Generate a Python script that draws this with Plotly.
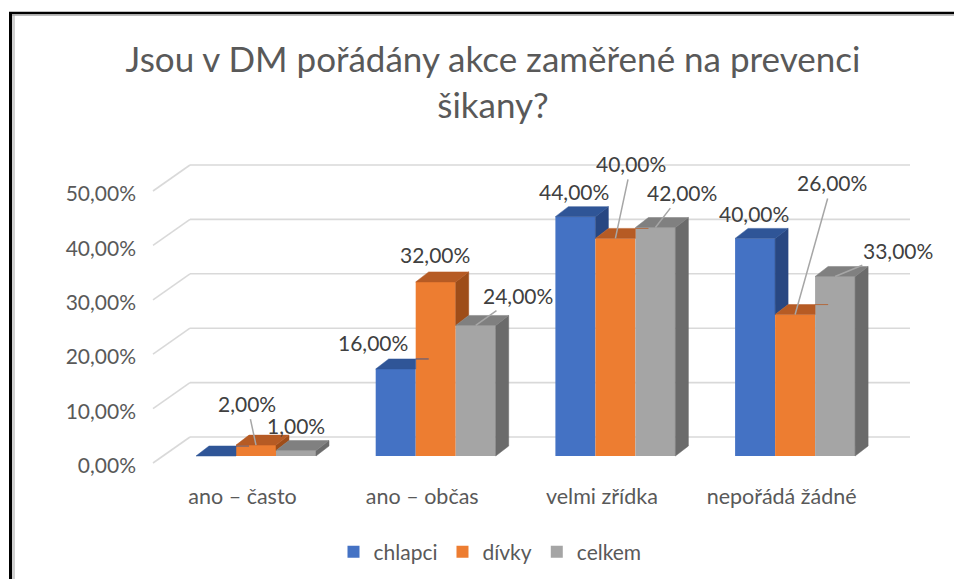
import plotly.graph_objects as go

# ---------------- data ----------------
categories = ["ano – často", "ano – občas", "velmi zřídka", "nepořádá žádné"]
series_names = ["chlapci", "dívky", "celkem"]
chlapci = [0.0, 16.0, 44.0, 40.0]
divky = [2.0, 32.0, 40.0, 26.0]
celkem = [1.0, 24.0, 42.0, 33.0]
y_ticks = [0, 10, 20, 30, 40, 50]
y_tick_labels = ["0,00%", "10,00%", "20,00%", "30,00%", "40,00%", "50,00%"]
title_text = "Jsou v DM pořádány akce zaměřené na prevenci<br>šikany?"

series_values = [chlapci, divky, celkem]

# ---------------- style ----------------
front_colors = ["#4472C4", "#ED7D31", "#A5A5A5"]
top_colors = ["#2F5597", "#B65B24", "#808080"]
side_colors = ["#284782", "#9E4D19", "#6B6B6B"]
FONT = "Lato, 'Open Sans', sans-serif"

OFF = 8                    # page body margin
W, H = 954, 571
# plot-area edges in screen px
L, R, T, B = 137, 940, 140, 481
PXX = 179.7      # px per category unit
X0 = 256         # screen px of category 0 centre
PXY = 5.44       # px per percent
Y0 = 456         # screen px of value 0 on the bar front plane

x_range = [(L - X0) / PXX, (R - X0) / PXX]
y_range = [(Y0 - B) / PXY, (Y0 - T) / PXY]

bw = 40 / PXX          # bar width in category units
ddx = 13 / PXX         # bar depth offset x
ddy = 10 / PXY         # bar depth offset y (percent)
wall_x0, wall_x1 = (190 - X0) / PXX, (910 - X0) / PXX
front_x = (153 - X0) / PXX
front_dy = (Y0 - 463) / PXY
back_dy = (Y0 - 437) / PXY

# data-label offsets in px (dx, dy, leader) per series / category; None = hidden
label_offsets = [
    [None, (-23, -26, False), (-1, -25, False), (-1, -25, False)],
    [(-9, -42, True), (-1, -27, False), (16, -75, True), (37, -132, True)],
    [(0, -25, False), (42, -30, True), (27, -35, True), (63, -26, True)],
]

def fmt(v):
    return f"{v:.2f}".replace(".", ",") + "%"

fig = go.Figure()

# front faces as bars
for k, (name, vals) in enumerate(zip(series_names, series_values)):
    fig.add_trace(go.Bar(
        x=list(range(len(categories))), y=vals, name=name,
        width=bw, offset=(-1.5 + k) * bw,
        marker=dict(color=front_colors[k], line=dict(width=0)),
        hoverinfo="skip",
    ))

# 3D side and top faces (derived from the values)
for g in range(len(categories)):
    for k in range(len(series_values)):
        v = series_values[k][g]
        x0 = g + (-1.5 + k) * bw
        x1 = x0 + bw
        vn = series_values[k + 1][g] if k + 1 < len(series_values) else None
        base = vn if vn is not None else 0.0
        if vn is None or vn < v:
            fig.add_trace(go.Scatter(
                x=[x1, x1, x1 + ddx, x1 + ddx, x1],
                y=[base, v, v + ddy, base + ddy, base],
                fill="toself", fillcolor=side_colors[k], mode="lines",
                line=dict(color=side_colors[k], width=0.5),
                hoverinfo="skip", showlegend=False))
        t = 0.0 if vn is None else min(1.0, max(0.0, (vn - v) / ddy))
        fig.add_trace(go.Scatter(
            x=[x0, x1, x1, x1 + t * ddx, x1 + ddx, x0 + ddx, x0],
            y=[v, v, v + t * ddy, v + t * ddy, v + ddy, v + ddy, v],
            fill="toself", fillcolor=top_colors[k], mode="lines",
            line=dict(color=top_colors[k], width=0.5),
            hoverinfo="skip", showlegend=False))

# gridlines on back wall + side wall diagonals
shapes = []
for v in y_ticks:
    shapes.append(dict(type="line", xref="x", yref="y", layer="below",
                       x0=wall_x0, x1=wall_x1, y0=v + back_dy, y1=v + back_dy,
                       line=dict(color="#D9D9D9", width=1.6)))
    shapes.append(dict(type="line", xref="x", yref="y", layer="below",
                       x0=front_x, x1=wall_x0, y0=v + front_dy, y1=v + back_dy,
                       line=dict(color="#D9D9D9", width=1.6)))

# outer frame (black + grey inner line), in paper coords
def xp(px):
    return (px - L) / (R - L)

def yp(py):
    return (B - py) / (B - T)

right_edge = OFF + W
bottom_edge = OFF + H
shapes += [
    dict(type="line", xref="paper", yref="paper", x0=xp(10.5), x1=xp(10.5), y0=yp(12), y1=yp(bottom_edge),
         line=dict(color="#000000", width=3)),
    dict(type="line", xref="paper", yref="paper", x0=xp(13.5), x1=xp(13.5), y0=yp(15), y1=yp(bottom_edge),
         line=dict(color="#D0D0D0", width=3)),
    dict(type="line", xref="paper", yref="paper", x0=xp(9), x1=xp(right_edge), y0=yp(13), y1=yp(13),
         line=dict(color="#000000", width=2.5)),
    dict(type="line", xref="paper", yref="paper", x0=xp(12), x1=xp(right_edge), y0=yp(15), y1=yp(15),
         line=dict(color="#A6A6A6", width=1.5)),
]

# data labels
annotations = []
for k, vals in enumerate(series_values):
    for g, v in enumerate(vals):
        off = label_offsets[k][g]
        if off is None:
            continue
        dxp, dyp, leader = off
        xc = g + (-1 + k) * bw
        common = dict(x=xc, y=v, xref="x", yref="y", text=fmt(v),
                      font=dict(family=FONT, size=21, color="#404040"))
        if leader:
            annotations.append(dict(**common, showarrow=True, ax=dxp, ay=dyp,
                                    arrowhead=0, arrowwidth=1.5, arrowcolor="#A6A6A6",
                                    standoff=0, startstandoff=2))
        else:
            annotations.append(dict(**common, showarrow=False, xshift=dxp, yshift=-dyp))

fig.update_layout(
    width=W, height=H,
    margin=dict(l=L - OFF, r=W - (R - OFF), t=T - OFF, b=H - (B - OFF), pad=0, autoexpand=False),
    paper_bgcolor="white", plot_bgcolor="white",
    barmode="overlay",
    title=dict(text=title_text, x=(493 - OFF) / W, xref="container", xanchor="center",
               y=1 - 64 / H, yref="container", yanchor="top",
               font=dict(family=FONT, size=35, color="#595959")),
    xaxis=dict(range=x_range, tickvals=[i - 0.075 for i in range(len(categories))],
               ticktext=categories, showgrid=False, zeroline=False, showline=False,
               ticks="", tickfont=dict(family=FONT, size=21.5, color="#595959")),
    yaxis=dict(range=y_range, tickvals=[v - 1.8 for v in y_ticks], ticktext=y_tick_labels,
               showgrid=False, zeroline=False, showline=False, ticks="",
               tickfont=dict(family=FONT, size=21, color="#595959")),
    legend=dict(orientation="h", x=xp(490), xanchor="center", y=yp(552), yanchor="middle",
                font=dict(family=FONT, size=21, color="#595959"), itemwidth=30),
    shapes=shapes,
    annotations=annotations,
    showlegend=True,
)

fig.write_html("out.html")
